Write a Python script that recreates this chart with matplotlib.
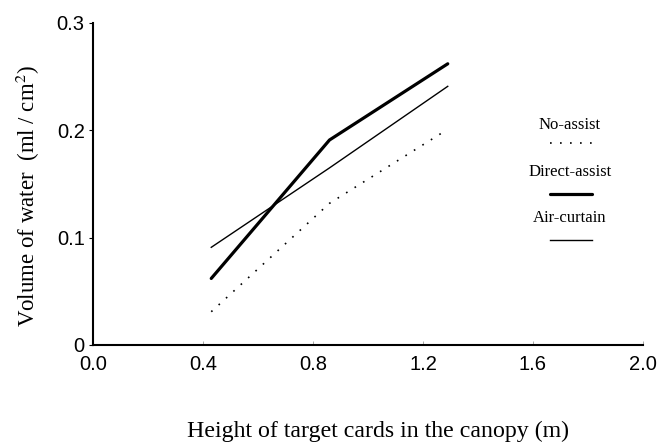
import matplotlib.pyplot as plt
from matplotlib.lines import Line2D

# card heights (m) and volume of water (ml/cm^2)
heights = [0.43, 0.86, 1.29]
no_assist = [0.031, 0.132, 0.201]
direct_assist = [0.062, 0.191, 0.262]
air_curtain = [0.091, 0.165, 0.241]

series_names = ['No-assist', 'Direct-assist', 'Air-curtain']
xticks = [0.0, 0.4, 0.8, 1.2, 1.6, 2.0]
yticks = [0, 0.1, 0.2, 0.3]
ytick_labels = ['0', '0.1', '0.2', '0.3']

W, H = 659, 445
fig = plt.figure(figsize=(W / 100, H / 100), dpi=100)
ax = fig.add_axes([93 / W, 1 - 345 / H, 550 / W, 322 / H])

styles = [dict(color='black', lw=1.2, ls=(0, (1, 5))),
          dict(color='black', lw=2.3, ls='-', solid_capstyle='round'),
          dict(color='black', lw=1.0, ls='-')]

for ys, st in zip([no_assist, direct_assist, air_curtain], styles):
    ax.plot(heights, ys, **st)

ax.set_xlim(0, 2.0)
ax.set_ylim(0, 0.3)
ax.set_xticks(xticks)
ax.set_xticklabels([f'{t:.1f}' for t in xticks])
ax.set_yticks(yticks)
ax.set_yticklabels(ytick_labels)

for s in ['top', 'right']:
    ax.spines[s].set_visible(False)
ax.spines['left'].set_linewidth(1.5)
ax.spines['bottom'].set_linewidth(1.5)

sans = 'Liberation Sans'
serif = 'Liberation Serif'
ax.tick_params(axis='x', direction='in', length=3, width=0.6, color='#999999',
               pad=7, labelsize=14.5)
ax.tick_params(axis='y', direction='out', length=3, width=0.8, pad=3,
               labelsize=14.5)
for lab in ax.get_xticklabels() + ax.get_yticklabels():
    lab.set_family(sans)

fig.text(378 / W, 1 - 431 / H, 'Height of target cards in the canopy (m)',
         ha='center', va='center', family=serif, fontsize=17.2)
fig.text(28 / W, 1 - 196 / H, 'Volume of water  (ml / cm$^2$)',
         ha='center', va='center', rotation=90, family=serif, fontsize=16.5,
         math_fontfamily='stix')

# legend: label with a line sample under it
text_y = [125, 172, 218]
line_y = [143, 194, 240]
for name, st, ty, ly in zip(series_names, styles, text_y, line_y):
    fig.text(570 / W, 1 - ty / H, name, ha='center', va='center',
             family=serif, fontsize=12)
    fig.add_artist(Line2D([550 / W, 592 / W], [1 - ly / H, 1 - ly / H],
                          transform=fig.transFigure, **st))

fig.savefig('out.png', dpi=100)
